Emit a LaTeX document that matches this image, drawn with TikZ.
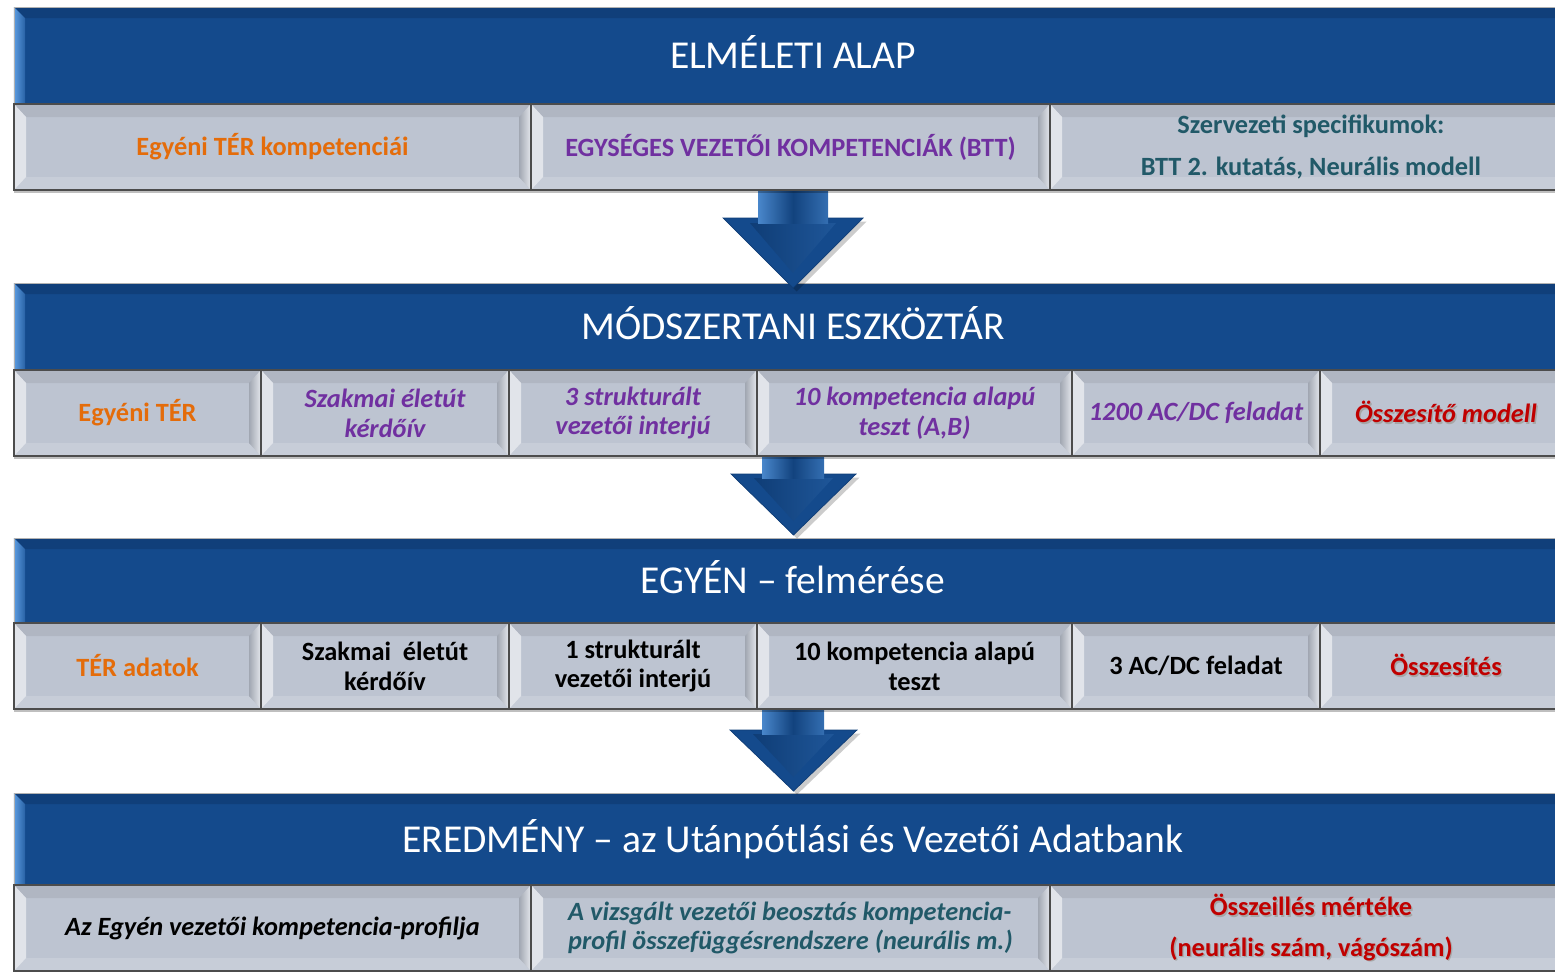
\documentclass[tikz,border=0pt]{standalone}
\usepackage{fontspec}
\setmainfont{Carlito}
\usetikzlibrary{positioning, shadows}
\definecolor{bandblue}{HTML}{144A8C}
\definecolor{banddark}{HTML}{0F3D76}
\definecolor{bandlight}{HTML}{5B9BE0}
\definecolor{cellgray}{HTML}{BDC4D1}
\definecolor{terorange}{HTML}{E46C0A}
\definecolor{btpurple}{HTML}{7030A0}
\definecolor{orgteal}{HTML}{215968}
\definecolor{sumred}{HTML}{C00000}
\newcommand{\shd}[1]{\leavevmode\rlap{\kern0.8pt\raisebox{-0.8pt}{\textcolor{black!35}{#1}}}#1}
\tikzset{
	band/.style={draw=black!30, fill=bandblue, text=white, inner sep=0pt,
		minimum width=31.16cm, font=\fontsize{22.5}{27}\selectfont, text height=14.6pt, text depth=0pt,
		path picture={
			\fill[banddark!80!bandblue] (path picture bounding box.north west) -- (path picture bounding box.north east)
				-- ([shift={(0,-0.22)}]path picture bounding box.north east) -- ([shift={(0.22,-0.22)}]path picture bounding box.north west) -- cycle;
			\shade[left color=bandlight, right color=bandblue!70!bandlight] (path picture bounding box.north west) -- ([shift={(0.22,-0.22)}]path picture bounding box.north west)
				-- ([shift={(0.22,0)}]path picture bounding box.south west) -- (path picture bounding box.south west) -- cycle;
		}},
	cell/.style={draw=black!70, line width=0.6pt, fill=cellgray, inner sep=0pt, align=center,
		minimum height=1.72cm, font=\fontsize{15}{17}\selectfont\bfseries,
		drop shadow={shadow xshift=0pt, shadow yshift=-1.5pt, opacity=.25, fill=black},
		path picture={
			\fill[cellgray!93!black] (path picture bounding box.north west) -- (path picture bounding box.north east)
				-- ([shift={(-0.24,-0.26)}]path picture bounding box.north east) -- ([shift={(0.24,-0.26)}]path picture bounding box.north west) -- cycle;
			\fill[cellgray!85!white] (path picture bounding box.south west) -- (path picture bounding box.south east)
				-- ([shift={(-0.24,0.26)}]path picture bounding box.south east) -- ([shift={(0.24,0.26)}]path picture bounding box.south west) -- cycle;
			\fill[white!55!cellgray] (path picture bounding box.north west) -- ([shift={(0.24,-0.26)}]path picture bounding box.north west)
				-- ([shift={(0.24,0.26)}]path picture bounding box.south west) -- (path picture bounding box.south west) -- cycle;
			\shade[left color=cellgray!85!black, right color=white!60!cellgray] (path picture bounding box.north east) -- ([shift={(-0.24,-0.26)}]path picture bounding box.north east)
				-- ([shift={(-0.24,0.26)}]path picture bounding box.south east) -- (path picture bounding box.south east) -- cycle;
		}},
	purple cell/.style={cell, text=btpurple, font=\fontsize{15}{17}\selectfont\bfseries\itshape},
	arrowhead/.style={fill=bandblue, draw=banddark, line width=0.4pt,
		drop shadow={shadow xshift=2pt, shadow yshift=-2pt, opacity=.2, fill=black}},
	arrowshaft/.style={left color=bandlight!75!bandblue, right color=bandlight!45!bandblue, middle color=bandblue!90!black}
}
\begin{document}
\begin{tikzpicture}
	\useasboundingbox (0,0) rectangle (31.10,-19.42);

	% bands
	\node[band, minimum height=1.94cm] (theory) at (15.86,-1.11) {ELMÉLETI ALAP};
	\node[band, minimum height=1.74cm] (toolkit) at (15.86,-6.53) {MÓDSZERTANI ESZKÖZTÁR};
	\node[band, minimum height=1.70cm] (survey) at (15.86,-11.61) {EGYÉN -- felmérése};
	\node[band, minimum height=1.86cm] (result) at (15.86,-16.79) {EREDMÉNY -- az Utánpótlási és Vezetői Adatbank};

	% arrows between the bands
	\draw[arrowhead] (14.46,-4.36) -- (15.86,-5.76) -- (17.26,-4.36) -- cycle;
	\shade[left color=banddark, right color=bandblue!85!bandlight] (15.00,-4.46) -- (16.72,-4.46) -- (15.86,-5.46) -- cycle;
	\shade[arrowshaft] (15.16,-3.60) rectangle (16.56,-4.46);

	\draw[arrowhead] (14.62,-9.48) -- (15.87,-10.70) -- (17.12,-9.48) -- cycle;
	\shade[left color=banddark, right color=bandblue!85!bandlight] (15.08,-9.56) -- (16.66,-9.56) -- (15.87,-10.42) -- cycle;
	\shade[arrowshaft] (15.24,-9.00) rectangle (16.48,-9.56);

	\draw[arrowhead] (14.60,-14.60) -- (15.87,-15.82) -- (17.14,-14.60) -- cycle;
	\shade[left color=banddark, right color=bandblue!85!bandlight] (15.06,-14.68) -- (16.68,-14.68) -- (15.87,-15.54) -- cycle;
	\shade[arrowshaft] (15.24,-14.06) rectangle (16.48,-14.68);

	% row 1
	\node[cell, minimum width=10.34cm, text=terorange] (tcomp) at (5.45,-2.94) {Egyéni TÉR kompetenciái};
	\node[cell, minimum width=10.38cm, text=btpurple] (bttcomp) at (15.81,-2.94) {EGYSÉGES VEZETŐI KOMPETENCIÁK (BTT)};
	\node[cell, minimum width=10.44cm, text=orgteal, font=\fontsize{15}{23.5}\selectfont\bfseries] (orgspec) at (26.22,-2.94) {Szervezeti specifikumok:\\BTT 2. kutatás, Neurális modell};

	% row 2
	\node[cell, minimum width=4.94cm, text=terorange] (ter) at (2.75,-8.26) {Egyéni TÉR};
	\node[purple cell, minimum width=4.96cm] (career) at (7.70,-8.26) {Szakmai életút\\kérdőív};
	\node[purple cell, minimum width=4.96cm] (interview) at (12.66,-8.26) {3 strukturált\\vezetői interjú};
	\node[purple cell, minimum width=6.30cm] (comptest) at (18.29,-8.26) {10 kompetencia alapú\\teszt (A,B)};
	\node[purple cell, minimum width=4.96cm] (acdc) at (23.92,-8.26) {1200 AC/DC feladat};
	\node[cell, minimum width=5.04cm, text=sumred, font=\fontsize{15}{17}\selectfont\bfseries\itshape] (summodel) at (28.92,-8.26) {\shd{Összesítő modell}};

	% row 3
	\node[cell, minimum width=4.94cm, text=terorange] (terdata) at (2.75,-13.32) {TÉR adatok};
	\node[cell, minimum width=4.96cm] (pcareer) at (7.70,-13.32) {Szakmai\ \ életút\\kérdőív};
	\node[cell, minimum width=4.96cm] (pinterview) at (12.66,-13.32) {1 strukturált\\vezetői interjú};
	\node[cell, minimum width=6.30cm] (ptest) at (18.29,-13.32) {10 kompetencia alapú\\teszt};
	\node[cell, minimum width=4.96cm] (pacdc) at (23.92,-13.32) {3 AC/DC feladat};
	\node[cell, minimum width=5.04cm, text=sumred] (psum) at (28.92,-13.32) {\shd{Összesítés}};

	% row 4
	\node[cell, minimum width=10.34cm, font=\fontsize{15}{17}\selectfont\bfseries\itshape] (profile) at (5.45,-18.56) {Az Egyén vezetői kompetencia-profilja};
	\node[cell, minimum width=10.38cm, text=orgteal, align=left, font=\fontsize{15}{17}\selectfont\bfseries\itshape] (network) at (15.81,-18.56) {A vizsgált vezetői beosztás kompetencia-\\profil összefüggésrendszere (neurális m.)};
	\node[cell, minimum width=10.44cm, text=sumred, font=\fontsize{15}{23}\selectfont\bfseries] (fit) at (26.22,-18.56) {\shd{Összeillés mértéke}\\\shd{(neurális szám, vágószám)}};
\end{tikzpicture}
\end{document}
